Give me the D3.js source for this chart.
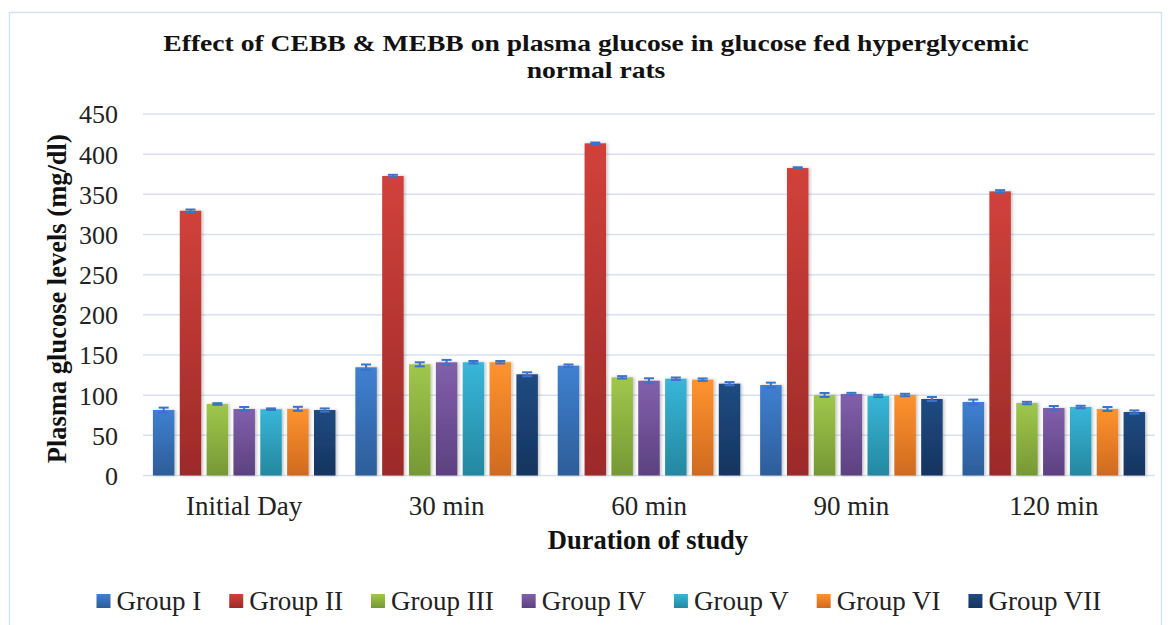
<!DOCTYPE html>
<html>
<head>
<meta charset="utf-8">
<script src="https://cdn.jsdelivr.net/npm/d3@7"></script>
<style>
  body { margin: 0; background: #fff; }
  svg { font-family: "Liberation Serif", "Times New Roman", serif; }
</style>
</head>
<body>
<svg id="chart" width="1168" height="625"></svg>
<script>
// data
let times = ['Initial Day', '30 min', '60 min', '90 min', '120 min'];
let groups = ['Group I', 'Group II', 'Group III', 'Group IV', 'Group V', 'Group VI', 'Group VII'];
// one row per group, one value per time point
let means = [
  [81.5, 134.7, 136.7, 112.6, 91.5],
  [329.6, 372.8, 413.5, 382.7, 353.7],
  [89, 138.4, 122.2, 100.2, 90.2],
  [82.8, 140.9, 118, 101.4, 84],
  [82.5, 141, 120.5, 99, 85.3],
  [83, 141, 119.3, 100.2, 82.8],
  [81.5, 126, 114.3, 95.2, 79]
];
let errors = [
  [3, 3.5, 1.5, 3, 3],
  [1.5, 1.5, 1, 1, 1.5],
  [1, 2.5, 1.5, 2.5, 1.5],
  [2.5, 3, 3, 1.5, 2.5],
  [1, 1.5, 1.5, 1.5, 1.5],
  [2.5, 1.5, 1.5, 1.5, 2.5],
  [2, 2.5, 2, 2.5, 2]
];
let yTicks = [0, 50, 100, 150, 200, 250, 300, 350, 400, 450];
let topColors = ['#3f80d1', '#d1413b', '#a0c74c', '#8160ab', '#38b6d9', '#ff932f', '#204b82'];
let bottomColors = ['#2d5d98', '#9c2a29', '#769834', '#5c4180', '#25879f', '#cf6a1f', '#15345f'];

let svg = d3.select('#chart');
let defs = svg.append('defs');

groups.forEach((g, i) => {
  let grad = defs.append('linearGradient')
    .attr('id', 'grad' + i)
    .attr('x1', 0).attr('y1', 0).attr('x2', 0).attr('y2', 1);
  grad.append('stop').attr('offset', '0%').attr('stop-color', topColors[i]);
  grad.append('stop').attr('offset', '100%').attr('stop-color', bottomColors[i]);
});

let shadow = defs.append('filter').attr('id', 'shadow')
  .attr('x', '-30%').attr('y', '-5%').attr('width', '160%').attr('height', '110%');
shadow.append('feDropShadow')
  .attr('dx', 1.5).attr('dy', 0).attr('stdDeviation', 1.5)
  .attr('flood-color', '#000').attr('flood-opacity', 0.25);

// outer chart frame
svg.append('rect')
  .attr('x', 9.5).attr('y', 12.5)
  .attr('width', 1152).attr('height', 640)
  .attr('fill', 'none').attr('stroke', '#d6e2f2').attr('stroke-width', 1.5);

let plotLeft = 143, plotRight = 1155, plotTop = 114, plotBottom = 475.5;

let x0 = d3.scaleBand().domain(times).range([plotLeft, plotRight]).padding(0);
let x1 = d3.scaleBand().domain(groups).range([0, x0.bandwidth()])
  .paddingInner(0.2).paddingOuter(0.37);
let y = d3.scaleLinear().domain([0, 450]).range([plotBottom, plotTop]);

// gridlines
svg.append('g')
  .selectAll('line')
  .data(yTicks)
  .join('line')
  .attr('x1', plotLeft).attr('x2', plotRight)
  .attr('y1', d => y(d)).attr('y2', d => y(d))
  .attr('stroke', '#d7e2f1')
  .attr('stroke-width', 1.5);

// y axis labels
let yAxis = svg.append('g')
  .attr('transform', `translate(${plotLeft - 25},0)`)
  .call(d3.axisLeft(y).tickValues(yTicks).tickSize(0).tickPadding(0));
yAxis.select('.domain').remove();
yAxis.selectAll('text')
  .attr('font-family', '"Liberation Serif", serif')
  .attr('font-size', 26)
  .attr('fill', '#222')
  .attr('dy', '0.34em');

// x axis labels
let xAxis = svg.append('g')
  .attr('transform', `translate(0,${plotBottom})`)
  .call(d3.axisBottom(x0).tickSize(0));
xAxis.select('.domain').remove();
xAxis.selectAll('text')
  .attr('font-family', '"Liberation Serif", serif')
  .attr('font-size', 27)
  .attr('fill', '#222')
  .attr('y', 514.5 - plotBottom)
  .attr('dy', 0);

// bars
let cat = svg.append('g')
  .selectAll('g')
  .data(times)
  .join('g')
  .attr('transform', d => `translate(${x0(d)},0)`);

let rows = (t, ti) => groups.map((g, gi) => ({ g: g, gi: gi, v: means[gi][ti], e: errors[gi][ti] }));

cat.selectAll('rect')
  .data(rows)
  .join('rect')
  .attr('x', d => x1(d.g))
  .attr('y', d => y(d.v))
  .attr('width', x1.bandwidth())
  .attr('height', d => y(0) - y(d.v))
  .attr('fill', d => `url(#grad${d.gi})`)
  .attr('filter', 'url(#shadow)');

// error bars
let err = cat.selectAll('g.err')
  .data(rows)
  .join('g')
  .attr('class', 'err')
  .attr('stroke', '#3b73c6')
  .attr('stroke-width', 2);

let cx = d => x1(d.g) + x1.bandwidth() / 2;
err.append('line')
  .attr('x1', cx).attr('x2', cx)
  .attr('y1', d => y(d.v - d.e))
  .attr('y2', d => y(d.v + d.e));
err.append('line')
  .attr('x1', d => cx(d) - 5).attr('x2', d => cx(d) + 5)
  .attr('y1', d => y(d.v + d.e))
  .attr('y2', d => y(d.v + d.e));
err.append('line')
  .attr('x1', d => cx(d) - 5).attr('x2', d => cx(d) + 5)
  .attr('y1', d => y(d.v - d.e))
  .attr('y2', d => y(d.v - d.e));

// title (glyphs in the original are a bit wide, so stretch horizontally)
let title = svg.append('text')
  .attr('transform', 'translate(596,0) scale(1.15,1)')
  .attr('y', 51)
  .attr('text-anchor', 'middle')
  .attr('font-weight', 'bold')
  .attr('font-size', 24)
  .attr('fill', '#111');
title.append('tspan').attr('x', 0).text('Effect of CEBB & MEBB on plasma glucose in glucose fed hyperglycemic');
title.append('tspan').attr('x', 0).attr('dy', 27).text('normal rats');

// axis titles
svg.append('text')
  .attr('transform', `translate(66,${(plotTop + plotBottom) / 2 + 4}) rotate(-90)`)
  .attr('text-anchor', 'middle')
  .attr('font-weight', 'bold')
  .attr('font-size', 26.5)
  .attr('fill', '#111')
  .text('Plasma glucose levels (mg/dl)');

svg.append('text')
  .attr('x', 648).attr('y', 549)
  .attr('text-anchor', 'middle')
  .attr('font-weight', 'bold')
  .attr('font-size', 26.5)
  .attr('fill', '#111')
  .text('Duration of study');

// legend, laid out left to right from measured text widths
let legend = svg.append('g').attr('transform', 'translate(96.5,0)');
let lx = 0;
groups.forEach((g, i) => {
  let item = legend.append('g').attr('transform', `translate(${lx},0)`);
  item.append('rect')
    .attr('x', 0).attr('y', 594)
    .attr('width', 14).attr('height', 14)
    .attr('fill', `url(#grad${i})`);
  let t = item.append('text')
    .attr('x', 20).attr('y', 610)
    .attr('font-size', 27)
    .attr('fill', '#222')
    .text(g);
  lx += 20 + t.node().getComputedTextLength() + 28;
});
</script>
</body>
</html>
